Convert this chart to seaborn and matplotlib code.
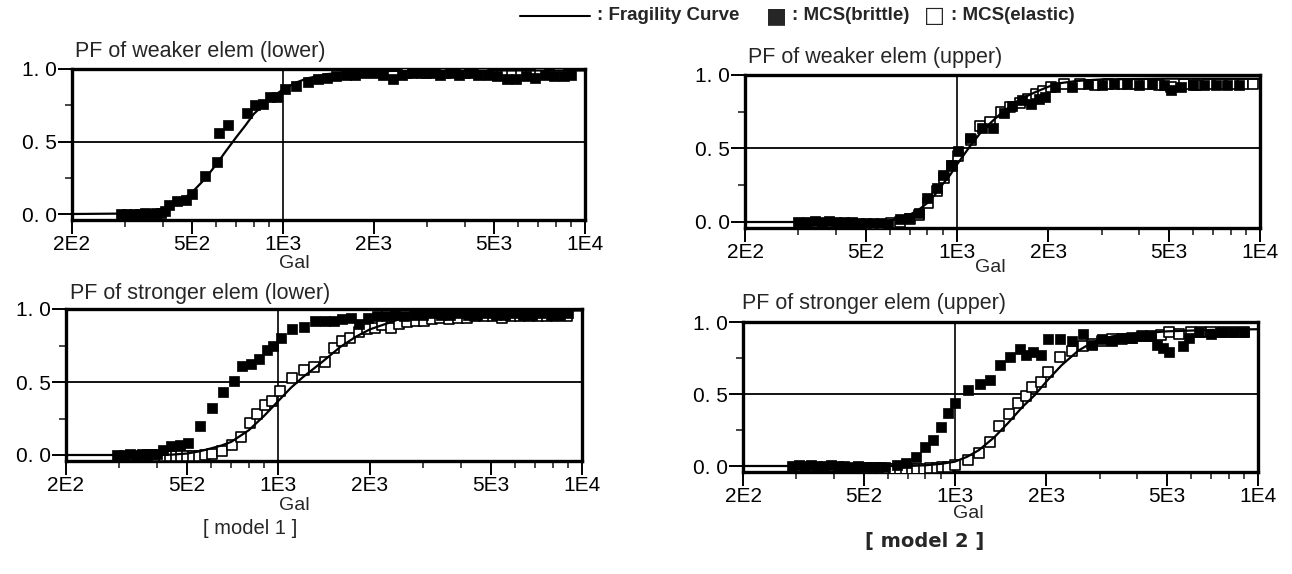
import matplotlib
matplotlib.use("Agg")
import matplotlib.pyplot as plt
from matplotlib.lines import Line2D
from matplotlib.ticker import FixedLocator, NullFormatter
import seaborn as sns

# === DATA ===
# x = peak ground acceleration [Gal], y = probability of failure

# model 1, weaker element (lower)
tl_curve_x = [200, 300, 350, 400, 450, 500, 550, 600, 650, 700, 750, 800, 900, 1000, 1100, 1200, 1400, 1700, 2000, 3000, 5000, 10000]
tl_curve_y = [0.0, 0.003, 0.01, 0.03, 0.08, 0.15, 0.24, 0.34, 0.44, 0.53, 0.61, 0.69, 0.79, 0.86, 0.905, 0.935, 0.965, 0.98, 0.985, 0.99, 0.99, 0.99]
tl_brittle_x = [290, 305, 320, 335, 350, 365, 380, 395, 408, 420, 447, 476, 500, 551, 604, 612, 656, 758, 807, 859,
                904, 957, 1012, 1104, 1206, 1301, 1400, 1500, 1610, 1730, 1860, 2000, 2150, 2310, 2480, 2670, 2870, 3080, 3310, 3560,
                3830, 4120, 4430, 4760, 5120, 5500, 5920, 6360, 6840, 7350, 7900, 8500, 9000]
tl_brittle_y = [0.0, 0.0, 0.0, 0.0, 0.005, 0.0, 0.01, 0.01, 0.02, 0.06, 0.09, 0.10, 0.14, 0.26, 0.36, 0.56, 0.615, 0.70, 0.75, 0.76,
                0.81, 0.81, 0.86, 0.88, 0.91, 0.93, 0.94, 0.95, 0.96, 0.96, 0.97, 0.97, 0.96, 0.93, 0.96, 0.97, 0.97, 0.97, 0.96, 0.97,
                0.96, 0.97, 0.96, 0.96, 0.95, 0.93, 0.93, 0.95, 0.94, 0.96, 0.95, 0.95, 0.96]
tl_elastic_x = [2580, 2980, 3440, 3990, 4600, 5300, 6120, 7080, 8200]
tl_elastic_y = [0.97, 0.97, 0.97, 0.97, 0.97, 0.96, 0.96, 0.97, 0.97]

# model 1, stronger element (lower)
bl_curve_x = [200, 400, 450, 500, 550, 600, 650, 700, 800, 900, 1000, 1100, 1200, 1400, 1600, 1800, 2000, 2500, 3000, 4000, 6000, 10000]
bl_curve_y = [0.0, 0.0, 0.003, 0.01, 0.025, 0.045, 0.065, 0.09, 0.17, 0.27, 0.37, 0.46, 0.53, 0.64, 0.74, 0.81, 0.86, 0.93, 0.96, 0.98, 0.985, 0.99]
bl_brittle_x = [295, 310, 325, 340, 355, 370, 385, 400, 417, 445, 474, 505, 554, 604, 659, 713, 762, 811, 865, 916,
                963, 1018, 1112, 1214, 1325, 1429, 1521, 1619, 1735, 1850, 1980, 2120, 2270, 2430, 2600, 2790, 2990, 3200, 3430, 3680,
                3940, 4220, 4520, 4850, 5200, 5570, 5970, 6400, 6860, 7350, 7880, 8450, 9000]
bl_brittle_y = [0.0, 0.0, 0.005, 0.0, 0.01, 0.005, 0.01, 0.01, 0.034, 0.064, 0.07, 0.08, 0.20, 0.32, 0.43, 0.51, 0.61, 0.62, 0.66, 0.72,
                0.75, 0.80, 0.86, 0.88, 0.92, 0.92, 0.92, 0.93, 0.94, 0.90, 0.94, 0.95, 0.95, 0.96, 0.95, 0.96, 0.96, 0.97, 0.96, 0.96,
                0.97, 0.96, 0.96, 0.97, 0.96, 0.96, 0.97, 0.96, 0.96, 0.97, 0.96, 0.96, 0.97]
bl_elastic_x = [400, 420, 440, 460, 480, 500, 525, 550, 575, 604, 653, 702, 753, 806, 853, 902, 955, 1011, 1112, 1214,
                1309, 1422, 1521, 1619, 1726, 1837, 1955, 2080, 2200, 2350, 2500, 2660, 2830, 3010, 3200, 3420, 3650, 3900, 4170, 4460,
                4770, 5100, 5460, 5840, 6250, 6690, 7160, 7660, 8200, 8900]
bl_elastic_y = [-0.01, -0.01, -0.01, -0.01, -0.005, -0.01, -0.01, -0.005, 0.0, 0.01, 0.03, 0.07, 0.125, 0.22, 0.28, 0.34, 0.37, 0.44, 0.53, 0.58,
                0.60, 0.64, 0.73, 0.78, 0.80, 0.84, 0.86, 0.87, 0.89, 0.87, 0.90, 0.91, 0.92, 0.92, 0.93, 0.94, 0.93, 0.94, 0.94, 0.95,
                0.95, 0.95, 0.94, 0.95, 0.95, 0.95, 0.95, 0.95, 0.95, 0.95]

# model 2, weaker element (upper)
tr_curve_x = [200, 500, 550, 600, 650, 700, 750, 800, 850, 900, 950, 1000, 1100, 1200, 1300, 1400, 1600, 1800, 2000, 2200, 2500, 3000, 5000, 10000]
tr_curve_y = [0.0, 0.0, 0.003, 0.01, 0.025, 0.05, 0.085, 0.13, 0.19, 0.26, 0.32, 0.39, 0.51, 0.61, 0.68, 0.74, 0.83, 0.88, 0.92, 0.945, 0.96, 0.97, 0.975, 0.975]
tr_brittle_x = [300, 320, 340, 360, 380, 400, 425, 450, 475, 500, 530, 560, 593, 649, 695, 748, 800, 861, 900, 955,
                1007, 1108, 1213, 1315, 1428, 1517, 1634, 1750, 1867, 1955, 2104, 2405, 2711, 3000, 3300, 3630, 3990, 4390, 4830, 5100,
                5500, 6000, 6550, 7150, 7800, 8500]
tr_brittle_y = [0.0, 0.0, 0.005, 0.0, 0.005, 0.0, 0.0, 0.0, -0.005, -0.01, -0.01, -0.01, -0.015, 0.02, 0.025, 0.06, 0.16, 0.23, 0.32, 0.39,
                0.48, 0.57, 0.64, 0.64, 0.74, 0.79, 0.83, 0.80, 0.84, 0.85, 0.92, 0.92, 0.94, 0.93, 0.94, 0.94, 0.93, 0.94, 0.93, 0.90,
                0.92, 0.93, 0.93, 0.93, 0.93, 0.93]
tr_elastic_x = [520, 560, 605, 650, 700, 750, 805, 860, 910, 960, 1010, 1110, 1190, 1290, 1400, 1500, 1610, 1720, 1830, 1930,
                2050, 2250, 2550, 2850, 3150, 3500, 3850, 4250, 4650, 5100, 5600, 6150, 6750, 7400, 8100, 8800, 9500]
tr_elastic_y = [-0.02, -0.02, -0.01, 0.0, 0.02, 0.045, 0.13, 0.21, 0.30, 0.38, 0.45, 0.56, 0.65, 0.68, 0.75, 0.78, 0.81, 0.84, 0.87, 0.89,
                0.92, 0.94, 0.94, 0.93, 0.94, 0.94, 0.94, 0.94, 0.93, 0.92, 0.94, 0.93, 0.94, 0.94, 0.94, 0.94, 0.94]

# model 2, stronger element (upper)
br_curve_x = [200, 700, 800, 900, 1000, 1100, 1200, 1350, 1500, 1670, 1830, 2030, 2250, 2550, 2850, 3300, 4000, 5000, 7000, 10000]
br_curve_y = [0.0, 0.0, 0.005, 0.015, 0.03, 0.065, 0.11, 0.2, 0.3, 0.41, 0.49, 0.6, 0.7, 0.8, 0.86, 0.9, 0.92, 0.935, 0.945, 0.95]
br_brittle_x = [290, 305, 320, 335, 350, 370, 390, 410, 430, 455, 480, 510, 546, 589, 643, 692, 746, 796, 845, 902,
                951, 1000, 1104, 1208, 1307, 1409, 1521, 1634, 1723, 1812, 1930, 2029, 2218, 2427, 2654, 2839, 3050, 3300, 3550, 3850,
                4150, 4450, 4660, 4850, 5100, 5660, 5900, 6400, 7000, 7600, 8300, 9000]
br_brittle_y = [0.0, 0.005, 0.0, 0.005, 0.0, 0.0, 0.005, 0.0, 0.0, -0.005, 0.0, -0.005, -0.01, -0.01, 0.01, 0.02, 0.06, 0.13, 0.18, 0.27,
                0.365, 0.44, 0.53, 0.57, 0.60, 0.70, 0.76, 0.81, 0.77, 0.79, 0.77, 0.88, 0.885, 0.87, 0.92, 0.84, 0.88, 0.87, 0.89, 0.89,
                0.90, 0.90, 0.84, 0.82, 0.79, 0.83, 0.89, 0.93, 0.92, 0.93, 0.93, 0.93]
br_elastic_x = [510, 540, 570, 600, 630, 660, 690, 720, 750, 790, 830, 870, 910, 950, 1000, 1104, 1198, 1302, 1400, 1508,
                1612, 1723, 1790, 1930, 2029, 2218, 2427, 2654, 2839, 3050, 3300, 3550, 3850, 4150, 4450, 4800, 5100, 5500, 6000, 6500,
                7000, 7600, 8300, 9000]
br_elastic_y = [-0.015, -0.015, -0.015, -0.02, -0.02, -0.02, -0.02, -0.02, -0.02, -0.02, -0.015, -0.015, -0.01, -0.01, 0.01, 0.04, 0.09, 0.17, 0.28, 0.36,
                0.44, 0.485, 0.55, 0.58, 0.65, 0.76, 0.80, 0.83, 0.85, 0.87, 0.88, 0.88, 0.89, 0.90, 0.90, 0.91, 0.93, 0.92, 0.93, 0.93,
                0.93, 0.93, 0.93, 0.93]

x_major = [200, 500, 1000, 2000, 5000, 10000]
x_major_labels = ["2E2", "5E2", "1E3", "2E3", "5E3", "1E4"]
x_minor = [300, 400, 600, 700, 800, 900, 3000, 4000, 6000, 7000, 8000, 9000]
y_major = [0.0, 0.5, 1.0]
y_major_labels = ["0. 0", "0. 5", "1. 0"]
y_minor = [0.25, 0.75]

# === STYLE ===
sns.set_theme(style="ticks")
plt.rcParams["font.family"] = ["Liberation Sans", "DejaVu Sans"]
plt.rcParams["axes.edgecolor"] = "black"

W, H = 1292, 574
fig = plt.figure(figsize=(W / 100, H / 100), dpi=100)


def add_panel(left, right, top, zero):
    # pixel box of the scan: left/right = 2E2/1E4, top = 1.0, zero = 0.0
    bottom = zero + 0.04 * (zero - top)
    return fig.add_axes([left / W, 1 - bottom / H, (right - left) / W, (bottom - top) / H])


def draw_panel(ax, curve_x, curve_y, brittle_x, brittle_y, elastic_x, elastic_y):
    ax.set_xscale("log")
    ax.axhline(0.5, color="black", lw=1.3, zorder=1)
    ax.axvline(1000, color="black", lw=1.2, zorder=1)
    sns.scatterplot(x=elastic_x, y=elastic_y, ax=ax, marker="s", s=46, color="white",
                    edgecolor="black", linewidth=1.2, zorder=3)
    sns.scatterplot(x=brittle_x, y=brittle_y, ax=ax, marker="s", s=46, color="black",
                    edgecolor="black", linewidth=0.5, zorder=4)
    sns.lineplot(x=curve_x, y=curve_y, ax=ax, color="black", linewidth=1.6, zorder=5)
    ax.set_xlim(200, 10000)
    ax.set_ylim(-0.04, 1.0)
    ax.xaxis.set_major_locator(FixedLocator(x_major))
    ax.set_xticklabels(x_major_labels)
    ax.xaxis.set_minor_locator(FixedLocator(x_minor))
    ax.xaxis.set_minor_formatter(NullFormatter())
    ax.set_yticks(y_major)
    ax.set_yticklabels(y_major_labels)
    ax.yaxis.set_minor_locator(FixedLocator(y_minor))
    ax.tick_params(which="major", direction="out", length=10, width=1.4, labelsize=15, pad=1, colors="black")
    ax.tick_params(which="minor", direction="out", length=5, width=1.2)
    ax.set_xlabel("")
    ax.set_ylabel("")
    for sp in ax.spines.values():
        sp.set_visible(True)
        sp.set_linewidth(2.4)
        sp.set_color("black")


def ftext(px, py, s, **kw):
    fig.text(px / W, 1 - py / H, s, **kw)


panels = [
    (add_panel(72, 585, 69, 214), tl_curve_x, tl_curve_y, tl_brittle_x, tl_brittle_y, tl_elastic_x, tl_elastic_y),
    (add_panel(66, 582, 309, 455), bl_curve_x, bl_curve_y, bl_brittle_x, bl_brittle_y, bl_elastic_x, bl_elastic_y),
    (add_panel(745, 1260, 75, 222), tr_curve_x, tr_curve_y, tr_brittle_x, tr_brittle_y, tr_elastic_x, tr_elastic_y),
    (add_panel(743, 1258, 322, 466), br_curve_x, br_curve_y, br_brittle_x, br_brittle_y, br_elastic_x, br_elastic_y),
]
for p in panels:
    draw_panel(*p)

# panel titles and axis names
ftext(75, 52, "PF of weaker elem (lower)", fontsize=15.5, ha="left", va="center")
ftext(70, 293, "PF of stronger elem (lower)", fontsize=15.5, ha="left", va="center")
ftext(748, 57, "PF of weaker elem (upper)", fontsize=15.5, ha="left", va="center")
ftext(742, 304, "PF of stronger elem (upper)", fontsize=15.5, ha="left", va="center")
ftext(294, 263, "Gal", fontsize=14, ha="center", va="center")
ftext(294, 505, "Gal", fontsize=14, ha="center", va="center")
ftext(990, 267, "Gal", fontsize=14, ha="center", va="center")
ftext(968, 514, "Gal", fontsize=14, ha="center", va="center")
ftext(250, 528, "[ model 1 ]", fontsize=14.5, ha="center", va="center")
ftext(925, 541, "[ model 2 ]", fontsize=14, ha="center", va="center", fontweight="bold",
      family=["Liberation Sans Narrow", "DejaVu Sans"])

# legend row at the top
leg_font = dict(fontsize=13.5, fontweight="bold", va="center", ha="left",
                family=["Liberation Sans Narrow", "Liberation Sans", "DejaVu Sans"])
fig.add_artist(Line2D([520 / W, 590 / W], [1 - 16 / H, 1 - 16 / H], color="black", lw=1.5))
ftext(597, 16, ": Fragility Curve", **leg_font)
ftext(766, 16, "\u25A0", fontsize=16, va="center", ha="left", family=["DejaVu Sans"])
ftext(792, 16, ": MCS(brittle)", **leg_font)
ftext(924, 16, "\u25A1", fontsize=16, va="center", ha="left", family=["DejaVu Sans"])
ftext(951, 16, ": MCS(elastic)", **leg_font)

fig.savefig("out.png", dpi=100)
